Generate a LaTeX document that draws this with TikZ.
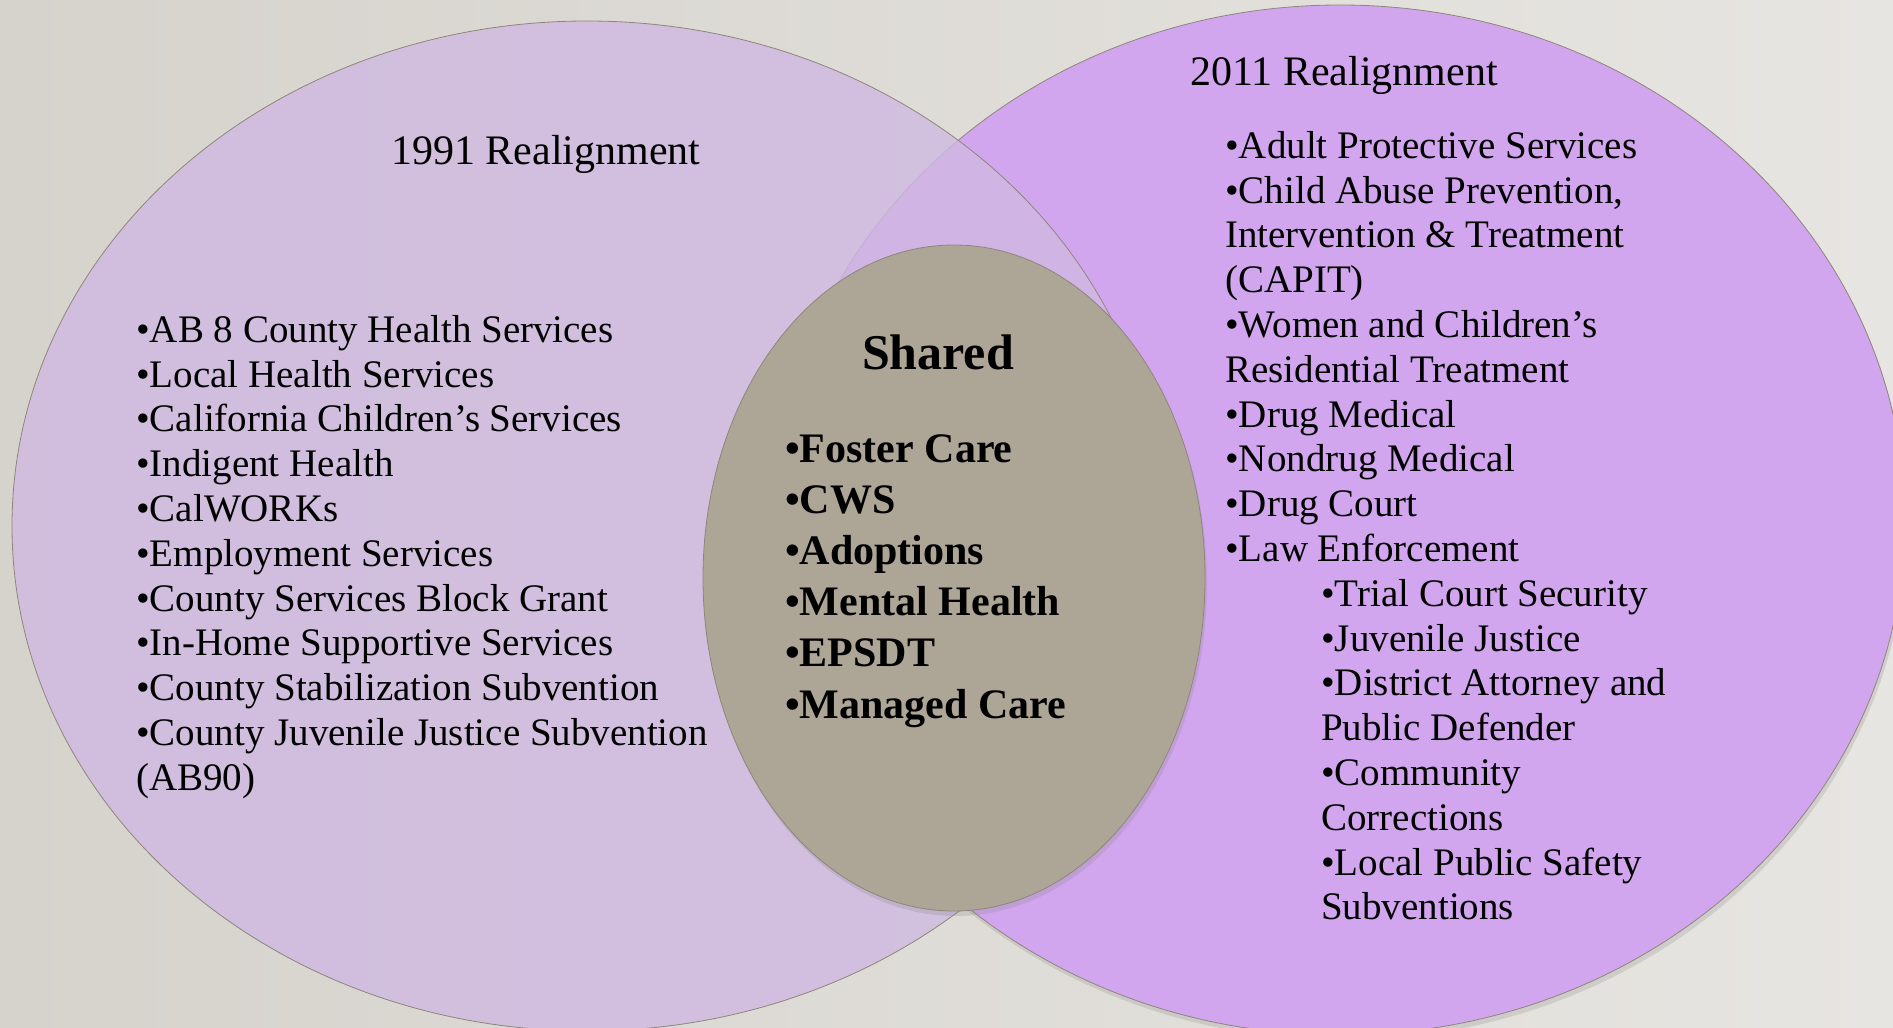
\documentclass[tikz,border=0pt]{standalone}
\usepackage{fontspec}
\setmainfont{Liberation Serif}
\usetikzlibrary{shapes.geometric,shadows}

\definecolor{bgleft}{HTML}{D6D3CD}
\definecolor{bgright}{HTML}{E7E5E1}
\definecolor{lilac}{HTML}{D0B9E2}
\definecolor{orchid}{HTML}{D2A6EE}
\definecolor{taupe}{HTML}{ADA596}
\definecolor{rim}{HTML}{8E867A}

\begin{document}
\begin{tikzpicture}[
    x=1pt, y=-1pt,
    venn/.style={ellipse, inner sep=0pt, draw=rim, line width=0.8pt},
    shadowed/.style={drop shadow={opacity=0.22, shadow xshift=2pt,
                     shadow yshift=-5pt}},
    set91/.style={venn, fill=lilac, fill opacity=0.8,
                  minimum width=1150pt, minimum height=1010pt},
    set11/.style={venn, shadowed, fill=orchid,
                  minimum width=1130pt, minimum height=1030pt},
    setsh/.style={venn, shadowed, fill=taupe,
                  minimum width=502pt, minimum height=666pt},
    head/.style={font=\fontsize{42}{48}\selectfont, inner sep=0pt},
    items/.style={font=\fontsize{39}{44.8}\selectfont, align=left, inner sep=0pt},
    shhead/.style={font=\bfseries\fontsize{50}{56}\selectfont, inner sep=0pt},
    shitems/.style={font=\bfseries\fontsize{42}{51.2}\selectfont, align=left,
                    inner sep=0pt},
  ]

  % --- Backdrop -----------------------------------------------------------
  \useasboundingbox (0,0) rectangle (1893,1028);
  \shade[left color=bgleft, right color=bgright] (0,0) rectangle (1893,1028);

  % --- The three sets -----------------------------------------------------
  \node[set11] (right) at (1340,520) {};
  \node[set91] (left) at (587,526) {};
  \node[setsh] (shared) at (954,578) {};

  % --- 1991 ---------------------------------------------------------------
  \node[head, anchor=base] (title91) at (546,164) {1991 Realignment};
  \node[items, anchor=north west] (list91) at (136,315)
    {•AB 8 County Health Services\\
     •Local Health Services\\
     •California Children’s Services\\
     •Indigent Health\\
     •CalWORKs\\
     •Employment Services\\
     •County Services Block Grant\\
     •In-Home Supportive Services\\
     •County Stabilization Subvention\\
     •County Juvenile Justice Subvention\\
     (AB90)};

  % --- 2011 ---------------------------------------------------------------
  \node[head, anchor=base] (title11) at (1344,85) {2011 Realignment};
  \node[items, anchor=north west] (list11) at (1225,131)
    {•Adult Protective Services\\
     •Child Abuse Prevention,\\
     Intervention \& Treatment\\
     (CAPIT)\\
     •Women and Children’s\\
     Residential Treatment\\
     •Drug Medical\\
     •Nondrug Medical\\
     •Drug Court\\
     •Law Enforcement\\
     \hspace*{96pt}•Trial Court Security\\
     \hspace*{96pt}•Juvenile Justice\\
     \hspace*{96pt}•District Attorney and\\
     \hspace*{96pt}Public Defender\\
     \hspace*{96pt}•Community\\
     \hspace*{96pt}Corrections\\
     \hspace*{96pt}•Local Public Safety\\
     \hspace*{96pt}Subventions};

  % --- Shared -------------------------------------------------------------
  \node[shhead, anchor=base] (titlesh) at (938,369) {Shared};
  \node[shitems, anchor=north west] (listsh) at (785,434)
    {•Foster Care\\
     •CWS\\
     •Adoptions\\
     •Mental Health\\
     •EPSDT\\
     •Managed Care};

\end{tikzpicture}
\end{document}
